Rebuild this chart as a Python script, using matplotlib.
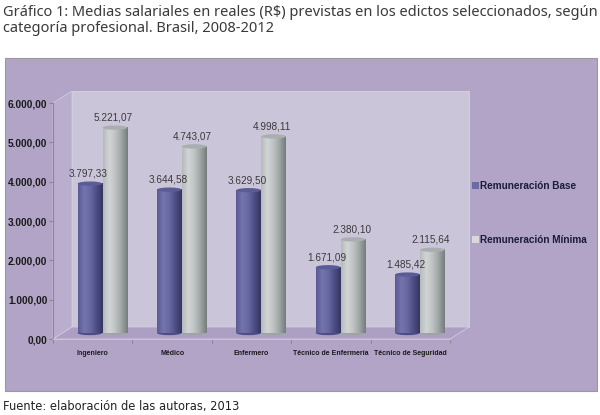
import matplotlib
matplotlib.use("Agg")
import matplotlib.pyplot as plt
import numpy as np
from matplotlib.patches import Rectangle, Polygon, Ellipse
from matplotlib.colors import LinearSegmentedColormap

categorias = ["Ingeniero", "Médico", "Enfermero", "Técnico de Enfermería", "Técnico de Seguridad"]
base = [3797.33, 3644.58, 3629.50, 1671.09, 1485.42]
minima = [5221.07, 4743.07, 4998.11, 2380.10, 2115.64]
etiquetas_base = ["3.797,33", "3.644,58", "3.629,50", "1.671,09", "1.485,42"]
etiquetas_minima = ["5.221,07", "4.743,07", "4.998,11", "2.380,10", "2.115,64"]
yticks = [0, 1000, 2000, 3000, 4000, 5000, 6000]
ytick_labels = ["0,00", "1.000,00", "2.000,00", "3.000,00", "4.000,00", "5.000,00", "6.000,00"]
series = ["Remuneración Base", "Remuneración Mínima"]

W, H = 600, 415
fig = plt.figure(figsize=(6, 4.15), dpi=100)
fig.patch.set_facecolor("white")

# purple panel behind the chart
fig.patches.append(Rectangle((5 / W, 1 - 391 / H), 592 / W, 333 / H, transform=fig.transFigure,
                             facecolor="#b1a4c7", edgecolor="#9a9a9a", lw=0.8, zorder=-10))

fig.text(3 / W, 1 - 12 / H, "Gráfico 1: Medias salariales en reales (R$) previstas en los edictos seleccionados, según",
         fontsize=10.5, family="Noto Sans", color="#3a3a3a", va="center")
fig.text(3 / W, 1 - 28 / H, "categoría profesional. Brasil, 2008-2012",
         fontsize=10.5, family="Noto Sans", color="#3a3a3a", va="center")
fig.text(3 / W, 1 - 406 / H, "Fuente: elaboración de las autoras, 2013",
         fontsize=8.3, family="DejaVu Sans", color="#222222", va="center")

# front plane of the 3D box
x0, x1, ytop, ybot = 53, 450, 103, 339
ax = fig.add_axes([x0 / W, 1 - ybot / H, (x1 - x0) / W, (ybot - ytop) / H])
ax.set_xlim(0, 5)
ax.set_ylim(0, 6000)
ax.set_facecolor("none")
for s in ax.spines.values():
    s.set_visible(False)

dx = 19 / (x1 - x0) * 5
dy = 12 / (ybot - ytop) * 6000
n = len(categorias)

# walls and floor
ax.add_patch(Polygon([(dx, dy), (n + dx, dy), (n + dx, 6000 + dy), (dx, 6000 + dy)],
                     closed=True, facecolor="#cbc5da", edgecolor="#d8d3e2", lw=0.6, clip_on=False, zorder=1))
ax.add_patch(Polygon([(0, 0), (dx, dy), (dx, 6000 + dy), (0, 6000)],
                     closed=True, facecolor="#b9aecd", edgecolor="#d0cade", lw=0.6, clip_on=False, zorder=1))
ax.add_patch(Polygon([(0, 0), (n, 0), (n + dx, dy), (dx, dy)],
                     closed=True, facecolor="#ac9fc3", edgecolor="#d0cade", lw=0.6, clip_on=False, zorder=1))

ax.plot([0, 0], [0, 6000], color="#8a8a8a", lw=0.8, clip_on=False, zorder=2)
ax.plot([0, n], [0, 0], color="#c8c2d6", lw=0.8, clip_on=False, zorder=2)

ax.set_yticks(yticks)
ax.set_yticklabels(ytick_labels, fontsize=7.3, fontweight="bold", family="Liberation Sans", color="#1a1a1a")
ax.tick_params(axis="y", length=3, color="#8a8a8a", pad=1)
ax.set_xticks(np.arange(n + 1))
ax.set_xticklabels([])
ax.tick_params(axis="x", length=3, color="#8a8a8a", direction="out")
for i, c in enumerate(categorias):
    ax.text(i + 0.5, -370, c, fontsize=5, fontweight="bold", family="Liberation Sans",
            color="#1a1a1a", ha="center", va="center")

cmap_base = LinearSegmentedColormap.from_list("b", ["#5a5a94", "#7474ae", "#6767a2", "#4d4d85", "#363660"])
cmap_min = LinearSegmentedColormap.from_list("m", ["#b6baba", "#d2d5d5", "#bec2c2", "#9ea4a4", "#757c7c"])
grad = np.linspace(0, 1, 64).reshape(1, -1)
bw = 0.31
eh = 110


def cilindro(xc, val, cmap, top_col, lbl):
    y0 = dy / 2
    y1 = val + dy / 2
    ax.imshow(grad, cmap=cmap, extent=[xc - bw / 2, xc + bw / 2, y0, y1], aspect="auto",
              zorder=3, interpolation="bicubic")
    ax.add_patch(Ellipse((xc, y0), bw, eh, facecolor=cmap(0.75), edgecolor="none", zorder=2.9))
    ax.add_patch(Ellipse((xc, y1), bw, eh, facecolor=top_col, edgecolor="none", zorder=3.1))
    ax.text(xc - 0.02, y1 + 130, lbl, fontsize=7.2, family="Liberation Sans", color="#3a3a3a",
            ha="center", va="bottom", zorder=4)


for i in range(n):
    xc = i + 0.5 + dx / 2
    cilindro(xc - bw / 2, base[i], cmap_base, "#5b5b97", etiquetas_base[i])
    cilindro(xc + bw / 2 + 0.005, minima[i], cmap_min, "#a9aeae", etiquetas_minima[i])

ax.set_xlim(0, 5)
ax.set_ylim(0, 6000)

# legend
for k, (nombre, col) in enumerate(zip(series, ["#6b6ba6", "#d9d9dc"])):
    yy = [186, 240][k]
    fig.patches.append(Rectangle((472 / W, 1 - (yy + 3.5) / H), 7 / W, 7 / H, transform=fig.transFigure,
                                 facecolor=col, edgecolor="none", zorder=5))
    fig.text(480 / W, 1 - yy / H, nombre, fontsize=7.2, fontweight="bold", family="Liberation Sans",
             color="#1c1c3a", va="center")

fig.savefig("out.png", dpi=100)
